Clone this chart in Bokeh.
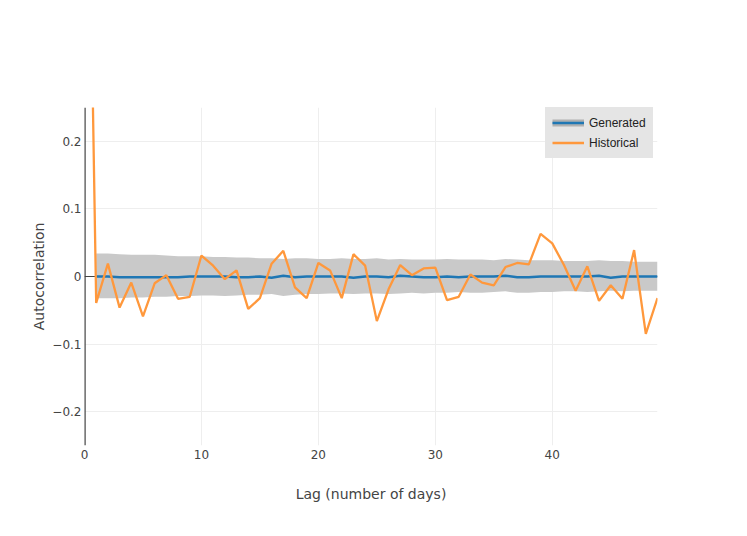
from bokeh.plotting import figure
from bokeh.models import Range1d, FixedTicker, Span, Legend, LegendItem
from bokeh.embed import file_html
from bokeh.resources import INLINE

# ---- data ----
hist_lags = list(range(0, 50))
hist_acf = [1.0, -0.039, 0.019, -0.046, -0.009, -0.059, -0.010, 0.002, -0.033, -0.030,
            0.031, 0.016, -0.004, 0.009, -0.048, -0.032, 0.019, 0.038, -0.016, -0.032,
            0.020, 0.009, -0.032, 0.033, 0.016, -0.066, -0.019, 0.017, 0.002, 0.012,
            0.013, -0.035, -0.030, 0.003, -0.009, -0.013, 0.014, 0.020, 0.018, 0.063,
            0.049, 0.017, -0.021, 0.015, -0.036, -0.013, -0.033, 0.039, -0.085, -0.032]

gen_lags = list(range(1, 50))
gen_mean = [0.000, 0.000, -0.001, -0.001, -0.001, -0.001, -0.001, -0.001, 0.000, 0.000,
            0.000, 0.000, -0.001, -0.001, 0.000, -0.002, 0.001, -0.001, 0.000, 0.000,
            0.000, 0.000, -0.002, 0.000, 0.000, -0.001, 0.001, 0.000, -0.001, -0.001,
            0.000, -0.001, 0.000, 0.000, 0.000, 0.001, -0.001, -0.001, 0.000, 0.000,
            0.000, 0.000, 0.000, 0.001, -0.002, 0.000, 0.000, 0.000, 0.000]
gen_upper = [0.034, 0.034, 0.033, 0.032, 0.032, 0.032, 0.031, 0.030, 0.030, 0.030,
             0.029, 0.029, 0.028, 0.028, 0.027, 0.027, 0.026, 0.027, 0.027, 0.026,
             0.026, 0.027, 0.026, 0.026, 0.027, 0.025, 0.026, 0.025, 0.025, 0.025,
             0.026, 0.025, 0.025, 0.025, 0.024, 0.026, 0.025, 0.024, 0.024, 0.024,
             0.023, 0.023, 0.023, 0.024, 0.023, 0.023, 0.022, 0.022, 0.022]
gen_lower = [-0.032, -0.032, -0.032, -0.031, -0.031, -0.030, -0.030, -0.029, -0.029, -0.028,
             -0.028, -0.029, -0.028, -0.027, -0.027, -0.026, -0.029, -0.027, -0.026, -0.026,
             -0.025, -0.025, -0.026, -0.025, -0.025, -0.026, -0.025, -0.024, -0.025, -0.024,
             -0.024, -0.023, -0.024, -0.024, -0.023, -0.022, -0.024, -0.024, -0.023, -0.023,
             -0.022, -0.022, -0.023, -0.022, -0.021, -0.022, -0.021, -0.021, -0.021]

x_ticks = [0, 10, 20, 30, 40]
y_ticks = [-0.2, -0.1, 0, 0.1, 0.2]
y_tick_labels = {-0.2: "\u22120.2", -0.1: "\u22120.1", 0: "0", 0.1: "0.1", 0.2: "0.2"}

FONT = "DejaVu Sans"
TXT = "#444444"

p = figure(width=739, height=528, x_range=Range1d(0, 49), y_range=Range1d(-0.25, 0.25),
           output_backend="svg", toolbar_location=None,
           min_border_left=84, min_border_right=82, min_border_top=107, min_border_bottom=83)
p.outline_line_color = None
p.background_fill_color = "white"
p.border_fill_color = "white"

for ax in (p.xaxis[0], p.yaxis[0]):
    ax.axis_line_color = None
    ax.major_tick_line_color = None
    ax.minor_tick_line_color = None
    ax.major_tick_in = 0
    ax.major_tick_out = 0
    ax.minor_tick_in = 0
    ax.minor_tick_out = 0
    ax.major_label_text_font = FONT
    ax.major_label_text_font_size = "12px"
    ax.major_label_text_color = TXT
    ax.axis_label_text_font = FONT
    ax.axis_label_text_font_size = "14px"
    ax.axis_label_text_font_style = "normal"
    ax.axis_label_text_color = TXT

p.xaxis.ticker = FixedTicker(ticks=x_ticks)
p.yaxis.ticker = FixedTicker(ticks=y_ticks)
p.yaxis.major_label_overrides = y_tick_labels
p.xaxis.axis_label = "Lag (number of days)"
p.yaxis.axis_label = "Autocorrelation"
p.xaxis.major_label_standoff = 4
p.xaxis.axis_label_standoff = 24
p.yaxis.major_label_standoff = 3
p.yaxis.axis_label_standoff = 2

p.xgrid.grid_line_color = "#eeeeee"
p.ygrid.grid_line_color = "#eeeeee"
p.xgrid.grid_line_width = 1
p.ygrid.grid_line_width = 1

p.add_layout(Span(location=0, dimension="width", line_color="#444444", line_width=1.2, level="underlay"))
p.add_layout(Span(location=0, dimension="height", line_color="#444444", line_width=2.4, level="underlay"))

band = p.varea(x=gen_lags, y1=gen_lower, y2=gen_upper, fill_color="#c9c9c9", fill_alpha=1.0)
gen_line = p.line(gen_lags, gen_mean, line_color="#1f77b4", line_width=2.5)
hist_line = p.line(hist_lags, hist_acf, line_color="#ff983c", line_width=2.3)

# legend swatch proxy for the band (a single NaN point: nothing is drawn on the plot)
nan = float("nan")
band_proxy = p.line([nan], [nan], line_color="#b0b0b0", line_width=7)

legend = Legend(items=[LegendItem(label="Generated", renderers=[band_proxy, gen_line]),
                       LegendItem(label="Historical", renderers=[hist_line])],
                location=(461, 287))
legend.background_fill_color = "#e5e5e5"
legend.background_fill_alpha = 1.0
legend.border_line_alpha = 0
legend.label_text_font = "Liberation Sans"
legend.label_text_font_size = "12px"
legend.label_text_color = "#222222"
legend.glyph_width = 32
legend.glyph_height = 17
legend.label_height = 17
legend.spacing = 3
legend.padding = 7
legend.margin = 0
legend.label_standoff = 5
p.add_layout(legend)

open("out.html", "w").write(file_html(p, INLINE))
